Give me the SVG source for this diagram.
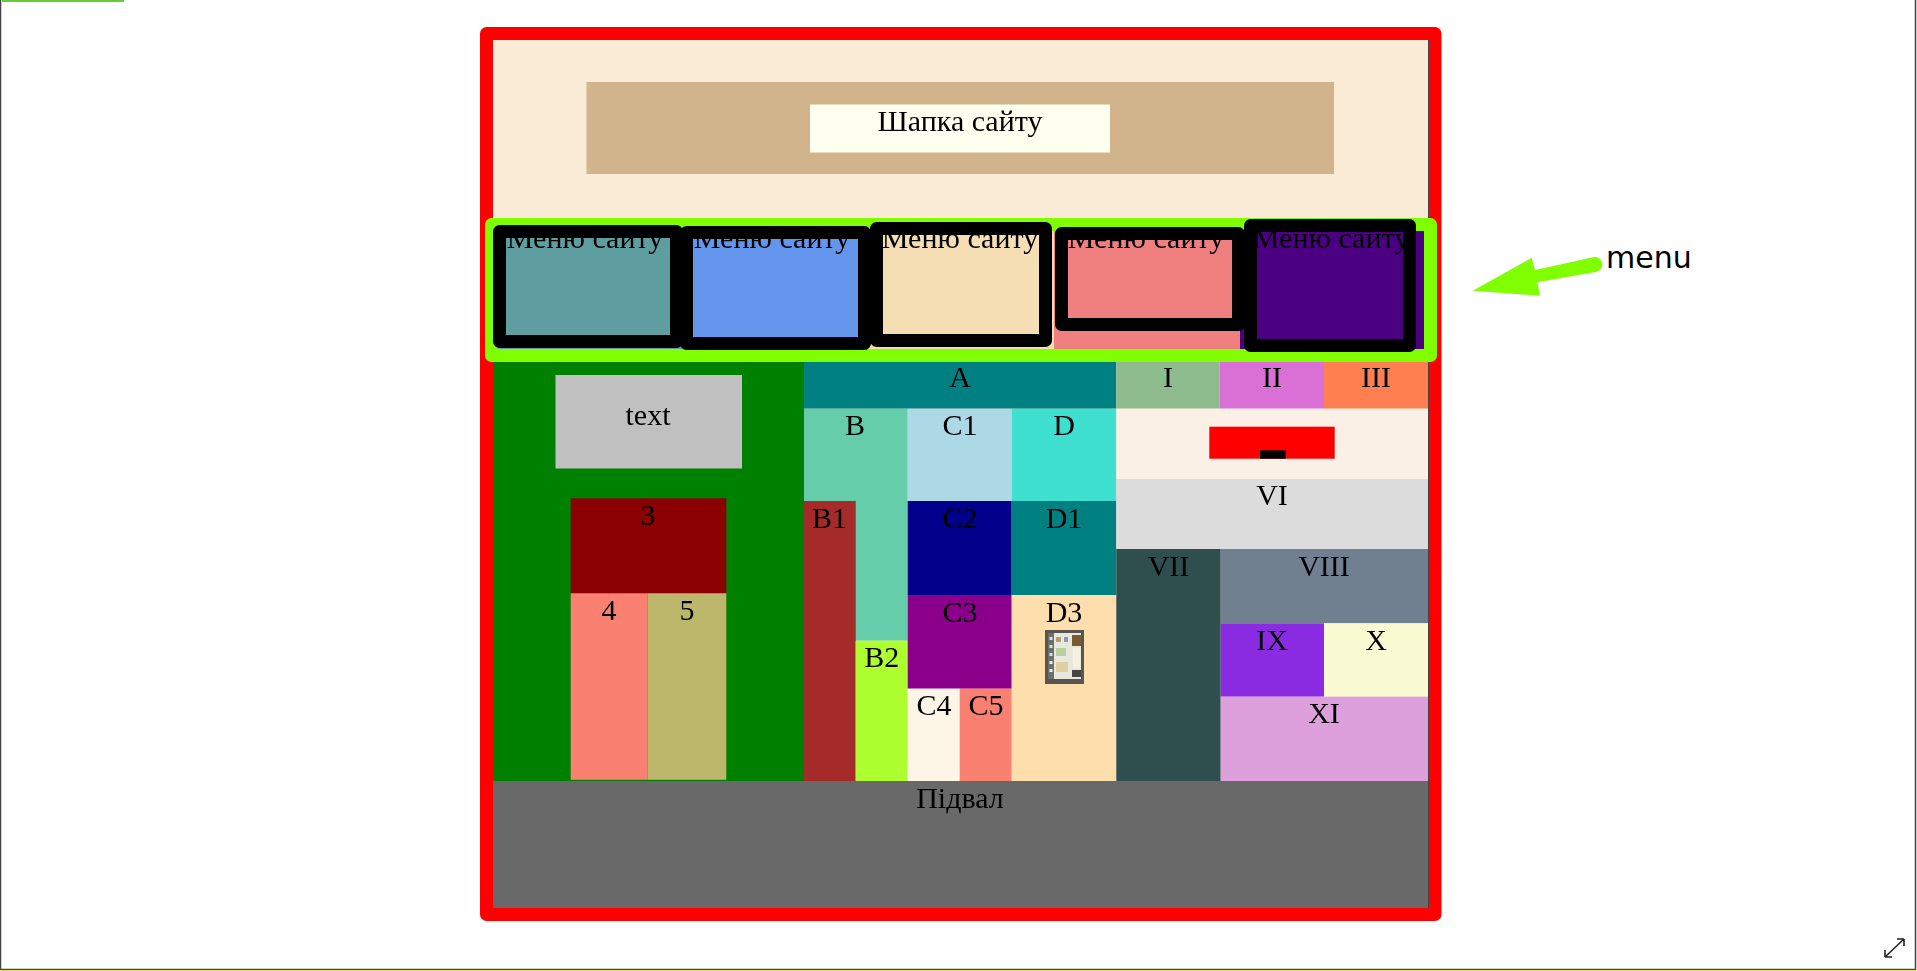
<svg xmlns="http://www.w3.org/2000/svg" width="1917" height="971" viewBox="0 0 1917 971">
<defs><filter id="soft" x="-20%" y="-20%" width="140%" height="140%"><feGaussianBlur stdDeviation="0.45"/></filter></defs>
<style>
text{font-family:"Liberation Serif","Times New Roman",serif;font-size:30px;fill:#000;text-anchor:middle;filter:url(#soft)}
.b{fill:none;stroke:#000;stroke-width:13;stroke-linejoin:round}
#menu-label{font-family:"DejaVu Sans",sans-serif;font-size:30px;text-anchor:start;filter:none}
</style>
<rect width="1917" height="971" fill="#fff"/>
<g id="page-frame">
<path d="M.5 0V969.500H1915.500V0" fill="none" stroke="#444" stroke-width="1.5"/>
<rect x="2" y="0" width="122" height="2" fill="#66cc33"/>
<rect x="0" y="970" width="1917" height="1" fill="#f5e050"/>
<path d="M1885 957L1904 939M1885 957v-7M1885 957h7M1904 939h-7M1904 939v7" fill="none" stroke="#222" stroke-width="1.6"/>
</g>
<g id="wrapper">
<rect x="486.500" y="33.500" width="948.500" height="881" fill="#faebd7" stroke="#f00" stroke-width="13" stroke-linejoin="round"/>
<rect x="1428" y="40" width="1" height="868" fill="#444"/>
</g>
<g id="header">
<rect x="586.500" y="82" width="747.500" height="92" fill="#d2b48c"/>
<rect x="810" y="104.500" width="300" height="48" fill="#fffff0"/>
<text x="960" y="131">Шапка сайту</text>
</g>
<g id="column-left">
<rect x="493" y="349" width="311" height="432" fill="#008000"/>
<rect x="555.500" y="375" width="186.500" height="93.500" fill="#c0c0c0"/>
<text x="648" y="425">text</text>
<rect x="570.700" y="498.300" width="155.600" height="95" fill="#8b0000"/>
<text x="648" y="525">3</text>
<rect x="570.700" y="593.300" width="77" height="186.500" fill="#fa8072"/>
<text x="609" y="619.500">4</text>
<rect x="647.700" y="593.300" width="78.600" height="186.500" fill="#bdb76b"/>
<text x="687" y="619.500">5</text>
</g>
<g id="A"><rect x="804" y="349" width="312.300" height="59.700" fill="#008080"/><text x="960" y="387">A</text></g>
<g id="B"><rect x="804" y="408.700" width="103.700" height="232" fill="#66cdaa"/><text x="855" y="435">B</text></g>
<g id="B1"><rect x="804" y="501" width="51.700" height="280" fill="#a52a2a"/><text x="829.500" y="528">B1</text></g>
<g id="B2"><rect x="855.700" y="640.700" width="52" height="140.300" fill="#adff2f"/><text x="881.700" y="667">B2</text></g>
<g id="C1"><rect x="907.700" y="408.700" width="104" height="92.300" fill="#add8e6"/><text x="960" y="435">C1</text></g>
<g id="C2"><rect x="907.700" y="501" width="104" height="94" fill="#00008b"/><text x="960" y="528">C2</text></g>
<g id="C3"><rect x="907.700" y="595" width="104" height="93.700" fill="#8b008b"/><text x="960" y="622">C3</text></g>
<g id="C4"><rect x="907.700" y="688.700" width="52" height="92.300" fill="#fdf5e6"/><text x="934" y="715">C4</text></g>
<g id="C5"><rect x="959.700" y="688.700" width="52" height="92.300" fill="#fa8072"/><text x="986" y="715">C5</text></g>
<g id="D"><rect x="1011.700" y="408.700" width="104.600" height="92.300" fill="#40e0d0"/><text x="1064" y="435">D</text></g>
<g id="D1"><rect x="1011.700" y="501" width="104.600" height="94" fill="#008080"/><text x="1064" y="528">D1</text></g>
<g id="D3"><rect x="1011.700" y="595" width="104.600" height="186" fill="#ffdead"/><text x="1064" y="622">D3</text>
<rect x="1045" y="630" width="39" height="54" fill="#5a564f"/>
<rect x="1048" y="633" width="33" height="46" fill="#e8e8dc"/>
<rect x="1048" y="633" width="6" height="46" fill="#6e6e6a"/>
<rect x="1049.500" y="637" width="3" height="3" fill="#dde"/><rect x="1049.500" y="645" width="3" height="3" fill="#cec"/><rect x="1049.500" y="653" width="3" height="3" fill="#dde"/><rect x="1049.500" y="661" width="3" height="3" fill="#eee"/><rect x="1049.500" y="669" width="3" height="3" fill="#eee"/>
<rect x="1056" y="637" width="5" height="5" fill="#b97"/><rect x="1064" y="637" width="4" height="5" fill="#89b"/>
<rect x="1056" y="648" width="10" height="8" fill="#b8d0a0"/><rect x="1056" y="662" width="12" height="10" fill="#e0d0a0"/>
<rect x="1072" y="635" width="9" height="11" fill="#7a5a30"/><rect x="1073" y="648" width="7" height="20" fill="#f5f0e0"/><rect x="1072" y="670" width="9" height="7" fill="#444"/>
</g>
<g id="I"><rect x="1116.300" y="349" width="103.400" height="59.700" fill="#8fbc8f"/><text x="1168" y="387">I</text></g>
<g id="II"><rect x="1219.700" y="349" width="104.300" height="59.700" fill="#da70d6"/><text x="1272" y="387">II</text></g>
<g id="III"><rect x="1324" y="349" width="104" height="59.700" fill="#ff7f50"/><text x="1376" y="387">III</text></g>
<g id="V"><rect x="1116.300" y="408.700" width="311.700" height="70.300" fill="#faf0e6"/><rect x="1209.300" y="426.700" width="125.400" height="32" fill="#f00"/><rect x="1260" y="450.300" width="25.700" height="8.400" fill="#000"/></g>
<g id="VI"><rect x="1116.300" y="479" width="311.700" height="70" fill="#dcdcdc"/><text x="1272" y="505">VI</text></g>
<g id="VII"><rect x="1116.300" y="549" width="104.400" height="232" fill="#2f4f4f"/><text x="1168.500" y="576">VII</text></g>
<g id="VIII"><rect x="1220.700" y="549" width="207.300" height="74.300" fill="#708090"/><text x="1324" y="576">VIII</text></g>
<g id="IX"><rect x="1220.700" y="623.300" width="103.300" height="73.400" fill="#8a2be2"/><text x="1272" y="650">IX</text></g>
<g id="X"><rect x="1324" y="623.300" width="104" height="73.400" fill="#fafad2"/><text x="1376" y="650">X</text></g>
<g id="XI"><rect x="1220.700" y="696.700" width="207.300" height="84.300" fill="#dda0dd"/><text x="1324" y="723">XI</text></g>
<g id="footer"><rect x="493" y="781" width="935" height="127" fill="#696969"/><text x="960" y="808">Підвал</text></g>
<g id="menu">
<rect x="491.500" y="224.500" width="939" height="131" fill="none" stroke="#7fff00" stroke-width="13" stroke-linejoin="round"/>
<rect x="498" y="231" width="184" height="118" fill="#5f9ea0"/>
<rect x="682" y="231" width="186" height="118" fill="#6495ed"/>
<rect x="868" y="231" width="186" height="118" fill="#f5deb3"/>
<rect x="1054" y="231" width="186" height="118" fill="#f08080"/>
<rect x="1240" y="231" width="184" height="118" fill="#4b0082"/>
<g id="menu-1"><text x="585" y="248">Меню сайту</text><rect class="b" x="499.500" y="231.500" width="177" height="110"/></g>
<g id="menu-2"><text x="772" y="248">Меню сайту</text><rect class="b" x="686.500" y="232.500" width="178" height="111"/></g>
<g id="menu-3"><text x="960" y="248">Меню сайту</text><rect class="b" x="876.500" y="228.500" width="169" height="112"/></g>
<g id="menu-4"><text x="1146" y="248">Меню сайту</text><rect class="b" x="1061.500" y="233.500" width="177" height="91"/></g>
<g id="menu-5"><text x="1331" y="248">Меню сайту</text><rect class="b" x="1250.500" y="225.500" width="159" height="120"/></g>
</g>
<g id="connectors">
<path d="M1472.700 290.700L1531.700 257.700L1535 270L1593 257.300A7.300 7.300 0 0 1 1596.700 271.700L1537.300 282.300L1540 295.700Z" fill="#7fff00"/>
</g>
<text id="menu-label" x="1606" y="268">menu</text>
</svg>
